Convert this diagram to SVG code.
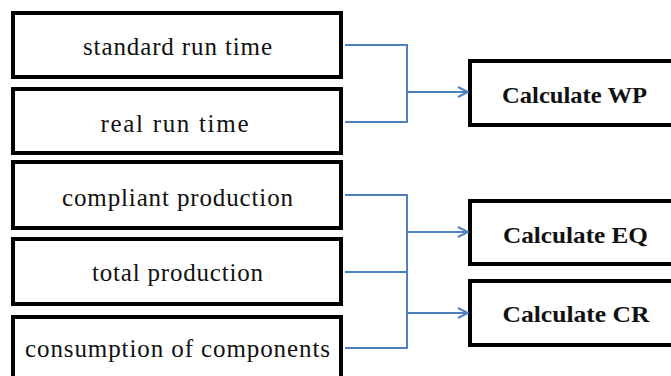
<svg xmlns="http://www.w3.org/2000/svg" width="671" height="376" viewBox="0 0 671 376">
<style>
.box{fill:#fff;stroke:#000;stroke-width:4}
.lt{font-family:"Liberation Serif","Times New Roman",serif;font-size:25px;fill:#111;text-anchor:middle}
.rt{font-family:"Liberation Serif","Times New Roman",serif;font-size:24px;font-weight:bold;fill:#111;text-anchor:middle}
.con{fill:none;stroke:#4F81BD;stroke-width:2}
</style>
<defs>
<marker id="arr" viewBox="0 0 12 12" refX="11" refY="6" markerWidth="12" markerHeight="12" markerUnits="userSpaceOnUse" orient="auto">
<path d="M1,1 L11,6 L1,11" fill="none" stroke="#4F81BD" stroke-width="2"/>
</marker>
</defs>
<rect width="671" height="376" fill="#fff"/>
<g id="n-standard"><rect class="box" x="13" y="13" width="328" height="64"/><text class="lt" x="177.5" y="55" textLength="189" lengthAdjust="spacing">standard run time</text></g>
<g id="n-real"><rect class="box" x="13" y="89" width="328" height="64"/><text class="lt" x="174.5" y="132" textLength="148" lengthAdjust="spacing">real run time</text></g>
<g id="n-compliant"><rect class="box" x="13" y="162" width="328" height="66"/><text class="lt" x="177.5" y="206" textLength="231" lengthAdjust="spacing">compliant production</text></g>
<g id="n-total"><rect class="box" x="13" y="239" width="328" height="65"/><text class="lt" x="177.5" y="281" textLength="171" lengthAdjust="spacing">total production</text></g>
<g id="n-consumption"><rect class="box" x="13" y="317" width="328" height="80"/><text class="lt" x="177.5" y="357" textLength="305" lengthAdjust="spacing">consumption of components</text></g>
<g id="n-wp"><rect class="box" x="470" y="61" width="250" height="64"/><text class="rt" x="574.5" y="103" textLength="145" lengthAdjust="spacingAndGlyphs">Calculate WP</text></g>
<g id="n-eq"><rect class="box" x="470" y="201" width="250" height="63"/><text class="rt" x="575.5" y="243" textLength="145" lengthAdjust="spacingAndGlyphs">Calculate EQ</text></g>
<g id="n-cr"><rect class="box" x="470" y="281" width="250" height="64"/><text class="rt" x="576" y="322" textLength="147" lengthAdjust="spacingAndGlyphs">Calculate CR</text></g>
<g id="connectors">
<path class="con" d="M345,45 H407 V122 H345"/>
<path class="con" d="M407,92 H468" marker-end="url(#arr)"/>
<path class="con" d="M345,195 H407 V348 H345"/>
<path class="con" d="M345,272 H407"/>
<path class="con" d="M407,232 H468" marker-end="url(#arr)"/>
<path class="con" d="M407,313 H468" marker-end="url(#arr)"/>
</g>
</svg>
